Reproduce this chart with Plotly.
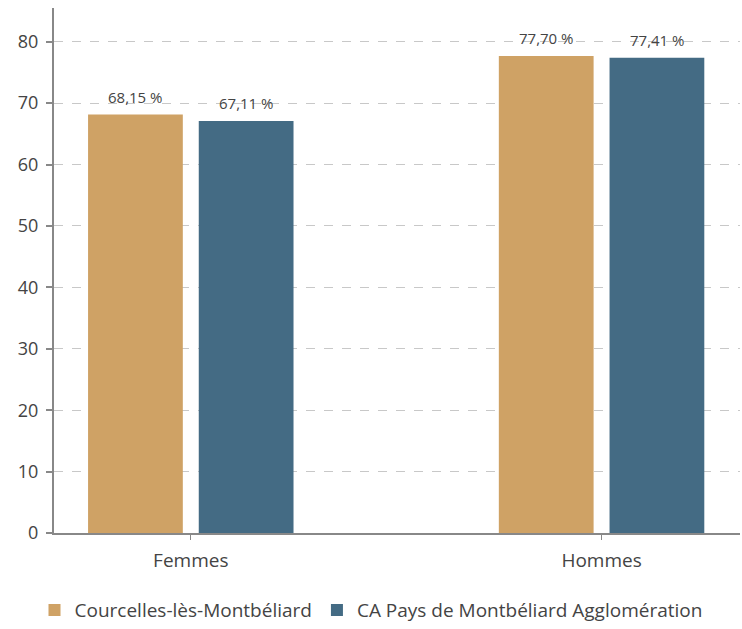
import plotly.graph_objects as go

categories = ["Femmes", "Hommes"]
series_names = ["Courcelles-lès-Montbéliard", "CA Pays de Montbéliard Agglomération"]
courcelles = [68.15, 77.70]
capma = [67.11, 77.41]
colors = ["#cfa265", "#446b84"]
y_ticks = [0, 10, 20, 30, 40, 50, 60, 70, 80]

FONT = "Open Sans"

fig = go.Figure()
series = [courcelles, capma]
offsets = [-55.5, 55.5]
for name, vals, col, off in zip(series_names, series, colors, offsets):
    fig.add_trace(go.Bar(
        x=categories, y=vals, name=name, marker_color=col,
        marker_line_width=0, hoverinfo="skip",
    ))
    for cat, v in zip(categories, vals):
        fig.add_annotation(
            x=cat, y=v, text=f"{v:.2f} %".replace(".", ","),
            showarrow=False, xshift=off, yshift=18, yanchor="middle",
            font=dict(family=FONT, size=15, color="#444"),
        )

fig.update_layout(
    width=742, height=629,
    margin=dict(l=54, r=2, t=8, b=96, autoexpand=False),
    plot_bgcolor="white", paper_bgcolor="white",
    barmode="group", bargap=0.461, bargroupgap=0.144,
    separators=", ",
    font=dict(family=FONT, color="#444"),
    legend=dict(orientation="h", xref="container", yref="container",
                x=0.5, xanchor="center", y=0.03, yanchor="middle",
                font=dict(family=FONT, size=19, color="#444"),
                itemwidth=30, traceorder="normal"),
    showlegend=True,
)
fig.update_xaxes(
    range=[-0.333, 1.337], showline=True, linecolor="#888", linewidth=2,
    ticks="outside", ticklen=5, tickcolor="#888", tickwidth=1,
    tickfont=dict(family=FONT, size=19, color="#444"), showgrid=False,
    ticklabelstandoff=4,
)
fig.update_yaxes(
    range=[0, 85.5], tickvals=y_ticks, showline=True, linecolor="#888", linewidth=2,
    ticks="outside", ticklen=6, tickcolor="#888", tickwidth=2,
    tickfont=dict(family=FONT, size=18, color="#444"),
    showgrid=True, gridcolor="#c8c8c8", griddash="dash", gridwidth=1,
    zeroline=False, ticklabelstandoff=4,
)

fig.write_html("out.html", config={"displayModeBar": False},
               post_script="document.body.style.margin='0';document.body.style.overflow='hidden';")
